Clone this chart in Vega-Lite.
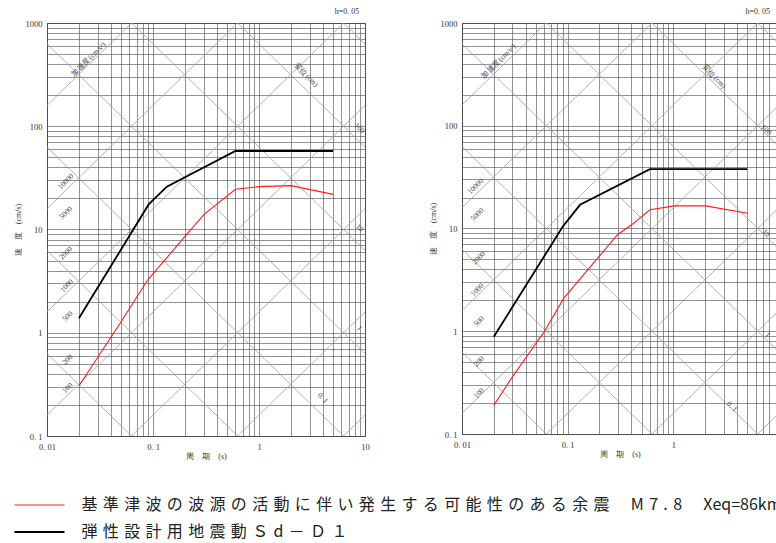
{
 "$schema": "https://vega.github.io/schema/vega-lite/v6.json",
 "background": "white",
 "padding": {"left": 13, "top": 7, "right": 0, "bottom": 0},
 "spacing": 58,
 "config": {
  "view": {"stroke": "#555", "strokeWidth": 1},
  "font": "Liberation Serif",
  "axis": {"labelFont": "Liberation Serif", "labelFontSize": 8.5, "labelColor": "#333", "titleFont": "Liberation Serif", "titleFontSize": 8, "titleFontWeight": "normal", "titleColor": "#333", "grid": true, "gridColor": "#4a4a4a", "gridWidth": 0.6, "ticks": false, "domain": false, "labelOverlap": false, "labelFlush": false, "labelBound": false},
  "title": {"font": "Liberation Serif", "fontSize": 8, "fontWeight": "normal", "color": "#333", "anchor": "end", "offset": 3}
 },
 "datasets": {
  "diag": [
   {"id":"A0.1","T":0.001,"V":1.5915e-5},{"id":"A0.1","T":100,"V":1.5915},
   {"id":"A1","T":0.001,"V":1.5915e-4},{"id":"A1","T":100,"V":15.915},
   {"id":"A10","T":0.001,"V":0.0015915},{"id":"A10","T":100,"V":159.15},
   {"id":"A100","T":0.001,"V":0.015915},{"id":"A100","T":100,"V":1591.5},
   {"id":"A1000","T":0.001,"V":0.15915},{"id":"A1000","T":100,"V":15915},
   {"id":"A10000","T":0.001,"V":1.5915},{"id":"A10000","T":100,"V":159150},
   {"id":"A100000","T":0.001,"V":15.915},{"id":"A100000","T":100,"V":1591500},
   {"id":"D0.001","T":0.001,"V":6.2832},{"id":"D0.001","T":100,"V":6.2832e-5},
   {"id":"D0.01","T":0.001,"V":62.832},{"id":"D0.01","T":100,"V":6.2832e-4},
   {"id":"D0.1","T":0.001,"V":628.32},{"id":"D0.1","T":100,"V":0.0062832},
   {"id":"D1","T":0.001,"V":6283.2},{"id":"D1","T":100,"V":0.062832},
   {"id":"D10","T":0.001,"V":62832},{"id":"D10","T":100,"V":0.62832},
   {"id":"D100","T":0.001,"V":628320},{"id":"D100","T":100,"V":6.2832},
   {"id":"D1000","T":0.001,"V":6283200},{"id":"D1000","T":100,"V":62.832}
  ],
  "curveL": [
   {"series":"基準津波の波源の活動に伴い発生する可能性のある余震　M7.8　Xeq=86km","T":0.02,"V":0.305},
   {"series":"基準津波の波源の活動に伴い発生する可能性のある余震　M7.8　Xeq=86km","T":0.05,"V":1.28},
   {"series":"基準津波の波源の活動に伴い発生する可能性のある余震　M7.8　Xeq=86km","T":0.089,"V":3.24},
   {"series":"基準津波の波源の活動に伴い発生する可能性のある余震　M7.8　Xeq=86km","T":0.205,"V":8.8},
   {"series":"基準津波の波源の活動に伴い発生する可能性のある余震　M7.8　Xeq=86km","T":0.305,"V":14.1},
   {"series":"基準津波の波源の活動に伴い発生する可能性のある余震　M7.8　Xeq=86km","T":0.6,"V":24.5},
   {"series":"基準津波の波源の活動に伴い発生する可能性のある余震　M7.8　Xeq=86km","T":1.0,"V":26},
   {"series":"基準津波の波源の活動に伴い発生する可能性のある余震　M7.8　Xeq=86km","T":2.0,"V":26.6},
   {"series":"基準津波の波源の活動に伴い発生する可能性のある余震　M7.8　Xeq=86km","T":5.0,"V":21.9},
   {"series":"弾性設計用地震動Ｓd－Ｄ１","T":0.02,"V":1.38},
   {"series":"弾性設計用地震動Ｓd－Ｄ１","T":0.091,"V":17.5},
   {"series":"弾性設計用地震動Ｓd－Ｄ１","T":0.135,"V":26},
   {"series":"弾性設計用地震動Ｓd－Ｄ１","T":0.6,"V":57.6},
   {"series":"弾性設計用地震動Ｓd－Ｄ１","T":5.0,"V":57.6}
  ],
  "curveR": [
   {"series":"基準津波の波源の活動に伴い発生する可能性のある余震　M7.8　Xeq=86km","T":0.02,"V":0.19},
   {"series":"基準津波の波源の活動に伴い発生する可能性のある余震　M7.8　Xeq=86km","T":0.03,"V":0.36},
   {"series":"基準津波の波源の活動に伴い発生する可能性のある余震　M7.8　Xeq=86km","T":0.06,"V":0.99},
   {"series":"基準津波の波源の活動に伴い発生する可能性のある余震　M7.8　Xeq=86km","T":0.092,"V":2.1},
   {"series":"基準津波の波源の活動に伴い発生する可能性のある余震　M7.8　Xeq=86km","T":0.15,"V":3.8},
   {"series":"基準津波の波源の活動に伴い発生する可能性のある余震　M7.8　Xeq=86km","T":0.296,"V":8.7},
   {"series":"基準津波の波源の活動に伴い発生する可能性のある余震　M7.8　Xeq=86km","T":0.4,"V":10.8},
   {"series":"基準津波の波源の活動に伴い発生する可能性のある余震　M7.8　Xeq=86km","T":0.6,"V":15.2},
   {"series":"基準津波の波源の活動に伴い発生する可能性のある余震　M7.8　Xeq=86km","T":1.03,"V":16.6},
   {"series":"基準津波の波源の活動に伴い発生する可能性のある余震　M7.8　Xeq=86km","T":2.02,"V":16.6},
   {"series":"基準津波の波源の活動に伴い発生する可能性のある余震　M7.8　Xeq=86km","T":5.0,"V":14.1},
   {"series":"弾性設計用地震動Ｓd－Ｄ１","T":0.02,"V":0.885},
   {"series":"弾性設計用地震動Ｓd－Ｄ１","T":0.09,"V":10.45},
   {"series":"弾性設計用地震動Ｓd－Ｄ１","T":0.131,"V":17},
   {"series":"弾性設計用地震動Ｓd－Ｄ１","T":0.6,"V":37.8},
   {"series":"弾性設計用地震動Ｓd－Ｄ１","T":5.0,"V":37.8}
  ],
  "labL": [
   {"fam":"A","txt":"100","T":0.0157,"V":0.29},
   {"fam":"A","txt":"200","T":0.0157,"V":0.545},
   {"fam":"A","txt":"500","T":0.0157,"V":1.43},
   {"fam":"A","txt":"1000","T":0.01545,"V":2.84},
   {"fam":"A","txt":"2000","T":0.0151,"V":5.88},
   {"fam":"A","txt":"5000","T":0.0151,"V":14.4},
   {"fam":"A","txt":"10000","T":0.0151,"V":29.0},
   {"fam":"A","txt":"加速度(cm/s²)","T":0.0247,"V":442},
   {"fam":"D","txt":"変位(cm)","T":2.77,"V":313},
   {"fam":"D","txt":"100","T":8.84,"V":95.5},
   {"fam":"D","txt":"10","T":8.84,"V":10.3},
   {"fam":"D","txt":"1","T":8.84,"V":1.1},
   {"fam":"D","txt":"0. 1","T":3.98,"V":0.232}
  ],
  "labR": [
   {"fam":"A","txt":"100","T":0.0145,"V":0.249},
   {"fam":"A","txt":"200","T":0.0145,"V":0.506},
   {"fam":"A","txt":"500","T":0.0145,"V":1.24},
   {"fam":"A","txt":"1000","T":0.014,"V":2.52},
   {"fam":"A","txt":"2000","T":0.0145,"V":5.14},
   {"fam":"A","txt":"5000","T":0.014,"V":13.6},
   {"fam":"A","txt":"10000","T":0.0135,"V":25.6},
   {"fam":"A","txt":"加速度(cm/s²)","T":0.0222,"V":422},
   {"fam":"D","txt":"変位(cm)","T":2.42,"V":301},
   {"fam":"D","txt":"100","T":7.53,"V":91},
   {"fam":"D","txt":"10","T":7.53,"V":9.0},
   {"fam":"D","txt":"1","T":7.8,"V":0.92},
   {"fam":"D","txt":"0. 1","T":3.57,"V":0.184}
  ]
 },
 "resolve": {"scale": {"color": "shared", "strokeWidth": "shared"}, "legend": {"color": "shared"}},
 "hconcat": [
  {
   "width": 318, "height": 413,
   "title": {"text": "h=0. 05", "dx": -10},
   "layer": [
    {
     "data": {"name": "diag"},
     "mark": {"type": "line", "clip": true, "stroke": "#a0a0a0", "strokeWidth": 0.8},
     "encoding": {
      "x": {"field": "T", "type": "quantitative", "scale": {"type": "log", "domain": [0.01, 10]},
            "axis": {"title": "周　期　(s)", "values": [0.01,0.02,0.03,0.04,0.05,0.06,0.07,0.08,0.09,0.1,0.2,0.3,0.4,0.5,0.6,0.7,0.8,0.9,1,2,3,4,5,6,7,8,9,10],
                     "labelExpr": "datum.value == 0.01 ? '0. 01' : datum.value == 0.1 ? '0. 1' : datum.value == 1 ? '1' : datum.value == 10 ? '10' : ''",
                     "labelPadding": 6, "titlePadding": 2}},
      "y": {"field": "V", "type": "quantitative", "scale": {"type": "log", "domain": [0.1, 1000]},
            "axis": {"title": "速　度　(cm/s)", "values": [0.1,0.2,0.3,0.4,0.5,0.6,0.7,0.8,0.9,1,2,3,4,5,6,7,8,9,10,20,30,40,50,60,70,80,90,100,200,300,400,500,600,700,800,900,1000],
                     "labelExpr": "datum.value == 0.1 ? '0. 1' : datum.value == 1 ? '1' : datum.value == 10 ? '10' : datum.value == 100 ? '100' : datum.value == 1000 ? '1000' : ''",
                     "labelPadding": 5, "titlePadding": 3}},
      "detail": {"field": "id"}
     }
    },
    {
     "data": {"name": "curveL"},
     "mark": {"type": "line", "clip": true},
     "encoding": {
      "x": {"field": "T", "type": "quantitative"},
      "y": {"field": "V", "type": "quantitative"},
      "color": {"field": "series", "type": "nominal",
                "scale": {"domain": ["基準津波の波源の活動に伴い発生する可能性のある余震　M7.8　Xeq=86km", "弾性設計用地震動Ｓd－Ｄ１"], "range": ["#ff1a1a", "#000000"]},
                "legend": {"orient": "none", "legendX": -18.5, "legendY": 471, "direction": "vertical", "title": null, "symbolType": "M-2.5,0H2.5", "symbolSize": 400, "symbolStrokeWidth": 2, "labelFont": "Noto Sans CJK JP", "labelFontSize": 16, "labelLimit": 1000, "labelOffset": 31, "rowPadding": 8, "labelColor": "#222", "padding": 0,
                           "labelExpr": "indexof(datum.label, '基準') == 0 ? '基\u2004準\u2004津\u2004波\u2004の\u2004波\u2004源\u2004の\u2004活\u2004動\u2004に\u2004伴\u2004い\u2004発\u2004生\u2004す\u2004る\u2004可\u2004能\u2004性\u2004の\u2004あ\u2004る\u2004余\u2004震\u2004　M\u20047\u2004.\u20048\u2004　Xeq=86km' : '弾\u2004性\u2004設\u2004計\u2004用\u2004地\u2004震\u2004動\u2004Ｓ\u2004d\u2004－\u2004Ｄ\u2004１'"}},
      "strokeWidth": {"field": "series", "type": "nominal", "scale": {"domain": ["基準津波の波源の活動に伴い発生する可能性のある余震　M7.8　Xeq=86km", "弾性設計用地震動Ｓd－Ｄ１"], "range": [1.1, 1.8]}, "legend": null}
     }
    },
    {
     "data": {"name": "labL"},
     "transform": [{"filter": "datum.fam == 'A'"}],
     "mark": {"type": "text", "angle": 315, "fontSize": 7.5, "font": "Liberation Serif", "fill": "#444", "clip": true},
     "encoding": {"x": {"field": "T", "type": "quantitative"}, "y": {"field": "V", "type": "quantitative"}, "text": {"field": "txt"}}
    },
    {
     "data": {"name": "labL"},
     "transform": [{"filter": "datum.fam == 'D'"}],
     "mark": {"type": "text", "angle": 45, "fontSize": 7.5, "font": "Liberation Serif", "fill": "#444", "clip": true},
     "encoding": {"x": {"field": "T", "type": "quantitative"}, "y": {"field": "V", "type": "quantitative"}, "text": {"field": "txt"}}
    }
   ]
  },
  {
   "width": 317, "height": 411,
   "title": {"text": "h=0. 05", "dx": -9},
   "layer": [
    {
     "data": {"name": "diag"},
     "mark": {"type": "line", "clip": true, "stroke": "#a0a0a0", "strokeWidth": 0.8},
     "encoding": {
      "x": {"field": "T", "type": "quantitative", "scale": {"type": "log", "domain": [0.01, 8.55]},
            "axis": {"title": "周　期　(s)", "values": [0.01,0.02,0.03,0.04,0.05,0.06,0.07,0.08,0.09,0.1,0.2,0.3,0.4,0.5,0.6,0.7,0.8,0.9,1,2,3,4,5,6,7,8],
                     "labelExpr": "datum.value == 0.01 ? '0. 01' : datum.value == 0.1 ? '0. 1' : datum.value == 1 ? '1' : ''",
                     "labelPadding": 6, "titlePadding": 2, "titleX": 158}},
      "y": {"field": "V", "type": "quantitative", "scale": {"type": "log", "domain": [0.1, 1000]},
            "axis": {"title": "速　度　(cm/s)", "values": [0.1,0.2,0.3,0.4,0.5,0.6,0.7,0.8,0.9,1,2,3,4,5,6,7,8,9,10,20,30,40,50,60,70,80,90,100,200,300,400,500,600,700,800,900,1000],
                     "labelExpr": "datum.value == 0.1 ? '0. 1' : datum.value == 1 ? '1' : datum.value == 10 ? '10' : datum.value == 100 ? '100' : datum.value == 1000 ? '1000' : ''",
                     "labelPadding": 5, "titlePadding": 3}},
      "detail": {"field": "id"}
     }
    },
    {
     "data": {"name": "curveR"},
     "mark": {"type": "line", "clip": true},
     "encoding": {
      "x": {"field": "T", "type": "quantitative"},
      "y": {"field": "V", "type": "quantitative"},
      "color": {"field": "series", "type": "nominal",
                "scale": {"domain": ["基準津波の波源の活動に伴い発生する可能性のある余震　M7.8　Xeq=86km", "弾性設計用地震動Ｓd－Ｄ１"], "range": ["#ff1a1a", "#000000"]},
                "legend": {"orient": "none", "legendX": -18.5, "legendY": 471, "direction": "vertical", "title": null, "symbolType": "M-2.5,0H2.5", "symbolSize": 400, "symbolStrokeWidth": 2, "labelFont": "Noto Sans CJK JP", "labelFontSize": 16, "labelLimit": 1000, "labelOffset": 31, "rowPadding": 8, "labelColor": "#222", "padding": 0,
                           "labelExpr": "indexof(datum.label, '基準') == 0 ? '基\u2004準\u2004津\u2004波\u2004の\u2004波\u2004源\u2004の\u2004活\u2004動\u2004に\u2004伴\u2004い\u2004発\u2004生\u2004す\u2004る\u2004可\u2004能\u2004性\u2004の\u2004あ\u2004る\u2004余\u2004震\u2004　M\u20047\u2004.\u20048\u2004　Xeq=86km' : '弾\u2004性\u2004設\u2004計\u2004用\u2004地\u2004震\u2004動\u2004Ｓ\u2004d\u2004－\u2004Ｄ\u2004１'"}},
      "strokeWidth": {"field": "series", "type": "nominal", "scale": {"domain": ["基準津波の波源の活動に伴い発生する可能性のある余震　M7.8　Xeq=86km", "弾性設計用地震動Ｓd－Ｄ１"], "range": [1.1, 1.8]}, "legend": null}
     }
    },
    {
     "data": {"name": "labR"},
     "transform": [{"filter": "datum.fam == 'A'"}],
     "mark": {"type": "text", "angle": 315, "fontSize": 7.5, "font": "Liberation Serif", "fill": "#444", "clip": true},
     "encoding": {"x": {"field": "T", "type": "quantitative"}, "y": {"field": "V", "type": "quantitative"}, "text": {"field": "txt"}}
    },
    {
     "data": {"name": "labR"},
     "transform": [{"filter": "datum.fam == 'D'"}],
     "mark": {"type": "text", "angle": 45, "fontSize": 7.5, "font": "Liberation Serif", "fill": "#444", "clip": true},
     "encoding": {"x": {"field": "T", "type": "quantitative"}, "y": {"field": "V", "type": "quantitative"}, "text": {"field": "txt"}}
    }
   ]
  }
 ]
}
